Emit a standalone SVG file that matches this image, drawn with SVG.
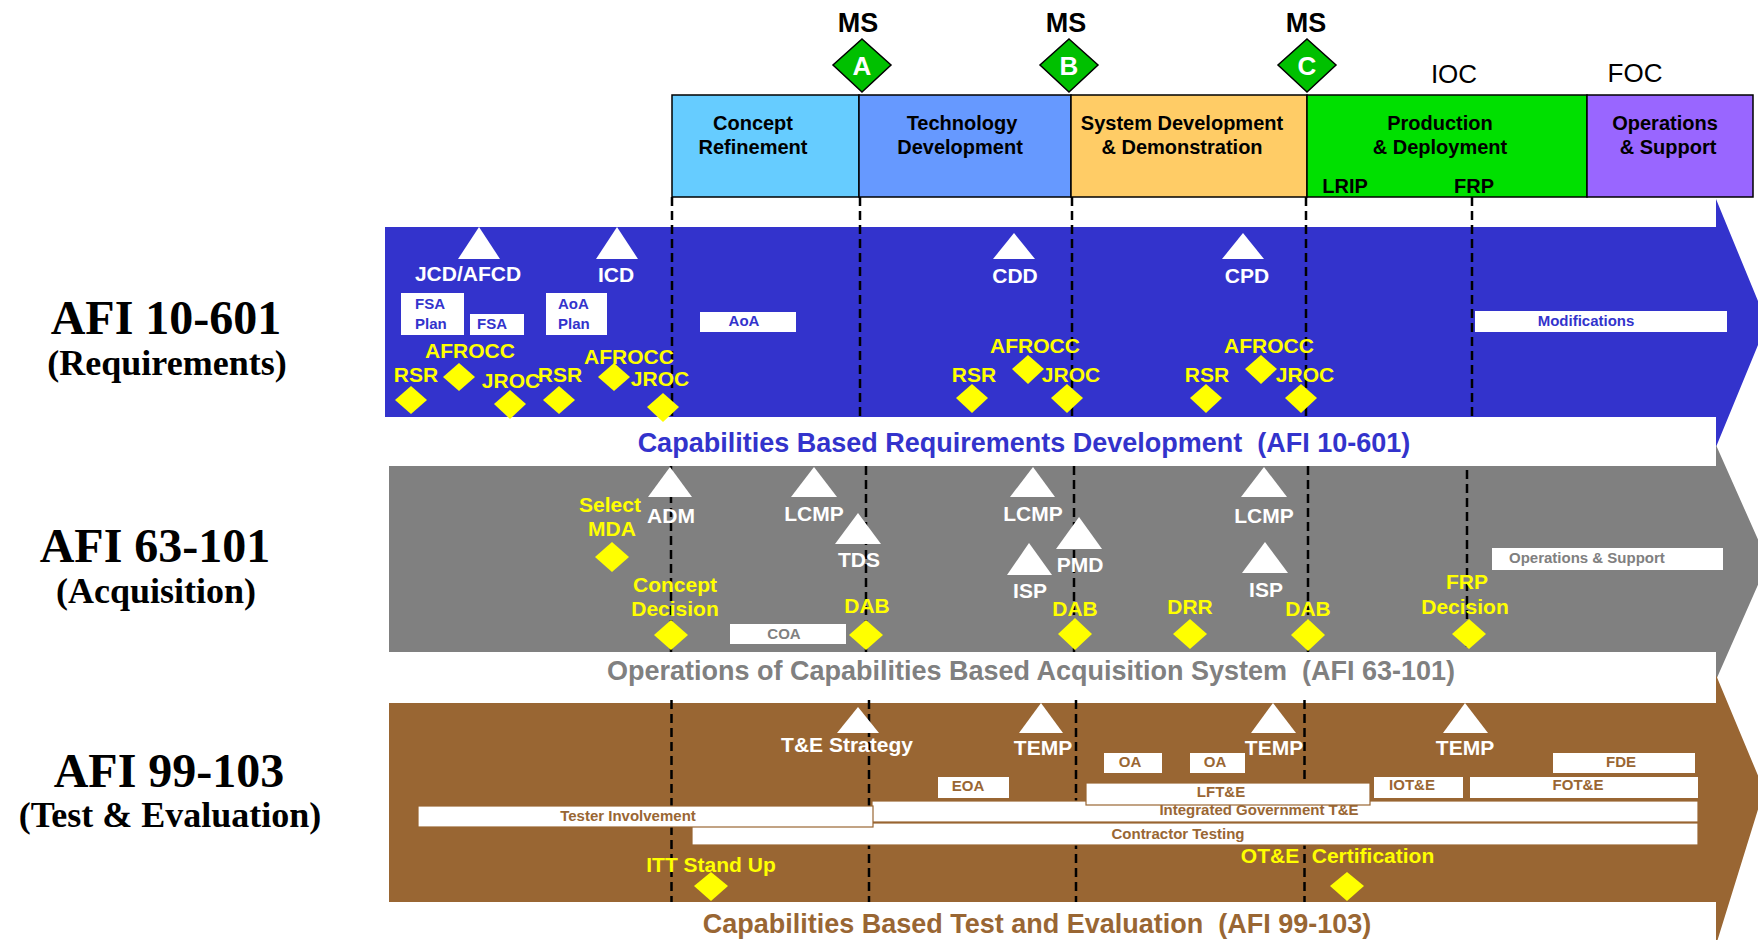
<svg xmlns="http://www.w3.org/2000/svg" width="1758" height="940" viewBox="0 0 1758 940">
<style>
text{font-family:"Liberation Sans",Arial,sans-serif;font-weight:bold}
.ph{font-size:20px;fill:#000;text-anchor:middle}
.ms{font-size:27px;fill:#000;text-anchor:middle}
.msl{font-size:26px;fill:#fff;text-anchor:middle}
.io{font-size:26px;font-weight:normal;fill:#000;text-anchor:middle}
.tl{font-size:21px;fill:#fff;text-anchor:middle}
.yl{font-size:21px;fill:#ff0;text-anchor:middle}
.tri{fill:#fff}
.dia{fill:#ff0}
.msd{fill:#00c000;stroke:#000;stroke-width:1.5}
.box{fill:#fff}
.bbox{fill:#fff;stroke:#996633;stroke-width:1.2}
.bt{font-size:15px;fill:#3333cc}
.gt{font-size:15px;fill:#808080}
.brt{font-size:15px;fill:#996633;text-anchor:middle}
.ttl{font-size:27px;text-anchor:middle}
.afi{font-family:"Liberation Serif","Times New Roman",serif;font-weight:bold;fill:#000;text-anchor:middle}
.dash{stroke:#000;stroke-width:2.5;stroke-dasharray:9,5;fill:none}
.phb{stroke:#000;stroke-width:1.5}
</style>

<!-- Left labels -->
<g id="label-req">
<text class="afi" x="166" y="334" font-size="48">AFI 10-601</text>
<text class="afi" x="167" y="375" font-size="36">(Requirements)</text>
</g>
<g id="label-acq">
<text class="afi" x="155" y="562" font-size="48">AFI 63-101</text>
<text class="afi" x="156" y="603" font-size="36">(Acquisition)</text>
</g>
<g id="label-te">
<text class="afi" x="169" y="787" font-size="48">AFI 99-103</text>
<text class="afi" x="170" y="827" font-size="36">(Test &amp; Evaluation)</text>
</g>

<!-- Band arrows -->
<g id="band-blue">
<polygon fill="#3333cc" points="385,227 1716,227 1716,199 1767,323 1716,447 1716,417 385,417"/>
</g>
<g id="band-grey">
<polygon fill="#808080" points="389,466 1716,466 1716,445 1768,562 1716,680 1716,652 389,652"/>
</g>
<g id="band-brown">
<polygon fill="#996633" points="389,703 1716,703 1716,675 1764,790 1716,945 1716,902 389,902"/>
</g>

<!-- Titles -->
<text class="ttl" x="1024" y="452" fill="#3333cc" xml:space="preserve">Capabilities Based Requirements Development  (AFI 10-601)</text>
<text class="ttl" x="1031" y="680" fill="#808080" xml:space="preserve">Operations of Capabilities Based Acquisition System  (AFI 63-101)</text>
<text class="ttl" x="1037" y="933" fill="#996633" xml:space="preserve">Capabilities Based Test and Evaluation  (AFI 99-103)</text>

<!-- Phase header -->
<g id="phase-cr"><rect class="phb" x="672" y="95" width="187" height="102" fill="#66ccff"/>
<text class="ph" x="753" y="130">Concept</text><text class="ph" x="753" y="154">Refinement</text></g>
<g id="phase-td"><rect class="phb" x="859" y="95" width="212" height="102" fill="#6699ff"/>
<text class="ph" x="962" y="130">Technology</text><text class="ph" x="960" y="154">Development</text></g>
<g id="phase-sdd"><rect class="phb" x="1071" y="95" width="236" height="102" fill="#ffcc66"/>
<text class="ph" x="1182" y="130">System Development</text><text class="ph" x="1182" y="154">&amp; Demonstration</text></g>
<g id="phase-pd"><rect class="phb" x="1307" y="95" width="280" height="102" fill="#00e000"/>
<text class="ph" x="1440" y="130">Production</text><text class="ph" x="1440" y="154">&amp; Deployment</text>
<text class="ph" x="1345" y="193">LRIP</text><text class="ph" x="1474" y="193">FRP</text></g>
<g id="phase-os"><rect class="phb" x="1587" y="95" width="166" height="102" fill="#9966ff"/>
<text class="ph" x="1665" y="130">Operations</text><text class="ph" x="1668" y="154">&amp; Support</text></g>

<!-- Milestones -->
<g id="ms-a"><text class="ms" x="858" y="32">MS</text>
<polygon class="msd" points="862,39 891,65 862,92 833,65"/><text class="msl" x="862" y="75">A</text></g>
<g id="ms-b"><text class="ms" x="1066" y="32">MS</text>
<polygon class="msd" points="1069,39 1098,65 1069,92 1040,65"/><text class="msl" x="1069" y="75">B</text></g>
<g id="ms-c"><text class="ms" x="1306" y="32">MS</text>
<polygon class="msd" points="1307,39 1336,65 1307,92 1278,65"/><text class="msl" x="1307" y="75">C</text></g>
<g id="ioc"><text class="io" x="1454" y="83">IOC</text></g>
<g id="foc"><text class="io" x="1635" y="82">FOC</text></g>

<!-- Dashed phase lines -->
<g id="connectors">
<line class="dash" x1="672" y1="197" x2="672" y2="420"/>
<line class="dash" x1="860" y1="197" x2="860" y2="420"/>
<line class="dash" x1="1072" y1="197" x2="1072" y2="420"/>
<line class="dash" x1="1306" y1="197" x2="1306" y2="420"/>
<line class="dash" x1="1472" y1="197" x2="1472" y2="420"/>
<line class="dash" x1="671" y1="466" x2="671" y2="652"/>
<line class="dash" x1="866" y1="466" x2="866" y2="652"/>
<line class="dash" x1="1074" y1="466" x2="1074" y2="652"/>
<line class="dash" x1="1308" y1="466" x2="1308" y2="652"/>
<line class="dash" x1="1467" y1="470" x2="1467" y2="652"/>
<line class="dash" x1="671.5" y1="700" x2="671.5" y2="902"/>
<line class="dash" x1="869" y1="700" x2="869" y2="902"/>
<line class="dash" x1="1076" y1="700" x2="1076" y2="902"/>
<line class="dash" x1="1304.5" y1="700" x2="1304.5" y2="902"/>
</g>

<!-- Blue band items -->
<g id="jcd"><polygon class="tri" points="479,227 500,259 458,259"/><text class="tl" x="468" y="281">JCD/AFCD</text></g>
<g id="icd"><polygon class="tri" points="617,227 638,259 596,259"/><text class="tl" x="616" y="282">ICD</text></g>
<g id="cdd"><polygon class="tri" points="1014,233 1035,259 993,259"/><text class="tl" x="1015" y="283">CDD</text></g>
<g id="cpd"><polygon class="tri" points="1243,233 1264,259 1222,259"/><text class="tl" x="1247" y="283">CPD</text></g>
<g id="fsa-plan"><rect class="box" x="401" y="293" width="63" height="42"/><text class="bt" x="415" y="309">FSA</text><text class="bt" x="415" y="329">Plan</text></g>
<g id="fsa"><rect class="box" x="470" y="314" width="54" height="21"/><text class="bt" x="492" y="329" text-anchor="middle">FSA</text></g>
<g id="aoa-plan"><rect class="box" x="546" y="293" width="61" height="42"/><text class="bt" x="558" y="309">AoA</text><text class="bt" x="558" y="329">Plan</text></g>
<g id="aoa"><rect class="box" x="700" y="312" width="96" height="20"/><text class="bt" x="744" y="326" text-anchor="middle">AoA</text></g>
<g id="mods"><rect class="box" x="1475" y="311" width="252" height="21"/><text class="bt" x="1586" y="326" text-anchor="middle">Modifications</text></g>

<g id="rsr1"><text class="yl" x="416" y="382">RSR</text><polygon class="dia" points="411,386 427,400 411,414 395,400"/></g>
<g id="afrocc1"><text class="yl" x="470" y="358">AFROCC</text><polygon class="dia" points="459,363 475,377 459,391 443,377"/></g>
<g id="jroc1"><text class="yl" x="511" y="388">JROC</text><polygon class="dia" points="510,390 526,404 510,419 494,404"/></g>
<g id="rsr2"><text class="yl" x="560" y="382">RSR</text><polygon class="dia" points="559,386 575,400 559,414 543,400"/></g>
<g id="afrocc2"><text class="yl" x="629" y="364">AFROCC</text><polygon class="dia" points="614,363 630,377 614,391 598,377"/></g>
<g id="jroc2"><text class="yl" x="660" y="386">JROC</text><polygon class="dia" points="663,393 679,407 663,422 647,407"/></g>
<g id="rsr3"><text class="yl" x="974" y="382">RSR</text><polygon class="dia" points="972,384 988,398 972,413 956,398"/></g>
<g id="afrocc3"><text class="yl" x="1035" y="353">AFROCC</text><polygon class="dia" points="1028,355 1044,369 1028,384 1012,369"/></g>
<g id="jroc3"><text class="yl" x="1071" y="382">JROC</text><polygon class="dia" points="1067,384 1083,398 1067,413 1051,398"/></g>
<g id="rsr4"><text class="yl" x="1207" y="382">RSR</text><polygon class="dia" points="1206,384 1222,398 1206,413 1190,398"/></g>
<g id="afrocc4"><text class="yl" x="1269" y="353">AFROCC</text><polygon class="dia" points="1261,355 1277,369 1261,384 1245,369"/></g>
<g id="jroc4"><text class="yl" x="1305" y="382">JROC</text><polygon class="dia" points="1301,384 1317,398 1301,413 1285,398"/></g>

<!-- Grey band items -->
<g id="adm"><polygon class="tri" points="670,467 692,497 648,497"/><text class="tl" x="671" y="523">ADM</text></g>
<g id="lcmp1"><polygon class="tri" points="814,467 837,497 791,497"/><text class="tl" x="814" y="521">LCMP</text></g>
<g id="tds"><polygon class="tri" points="858,513 881,544 835,544"/><text class="tl" x="859" y="567">TDS</text></g>
<g id="lcmp2"><polygon class="tri" points="1033,467 1055,497 1010,497"/><text class="tl" x="1033" y="521">LCMP</text></g>
<g id="isp1"><polygon class="tri" points="1029,543 1052,575 1007,575"/><text class="tl" x="1030" y="598">ISP</text></g>
<g id="pmd"><polygon class="tri" points="1079,517 1102,549 1056,549"/><text class="tl" x="1080" y="572">PMD</text></g>
<g id="lcmp3"><polygon class="tri" points="1264,467 1287,497 1241,497"/><text class="tl" x="1264" y="523">LCMP</text></g>
<g id="isp2"><polygon class="tri" points="1265,542 1288,573 1242,573"/><text class="tl" x="1266" y="597">ISP</text></g>
<g id="coa"><rect class="box" x="730" y="624" width="116" height="20"/><text class="gt" x="784" y="639" text-anchor="middle">COA</text></g>
<g id="ops-sup"><rect class="box" x="1492" y="548" width="231" height="22"/><text class="gt" x="1509" y="563">Operations &amp; Support</text></g>

<g id="select-mda"><text class="yl" x="610" y="512">Select</text><text class="yl" x="612" y="536">MDA</text><polygon class="dia" points="612,542 629,557 612,572 595,557"/></g>
<g id="concept-decision"><text class="yl" x="675" y="592">Concept</text><text class="yl" x="675" y="616">Decision</text><polygon class="dia" points="671,620 688,635 671,650 654,635"/></g>
<g id="dab1"><text class="yl" x="867" y="613">DAB</text><polygon class="dia" points="866,620 883,635 866,650 849,635"/></g>
<g id="dab2"><text class="yl" x="1075" y="616">DAB</text><polygon class="dia" points="1075,618 1092,634 1075,650 1058,634"/></g>
<g id="drr"><text class="yl" x="1190" y="614">DRR</text><polygon class="dia" points="1190,619 1207,634 1190,649 1173,634"/></g>
<g id="dab3"><text class="yl" x="1308" y="616">DAB</text><polygon class="dia" points="1308,619 1325,635 1308,651 1291,635"/></g>
<g id="frp-decision"><text class="yl" x="1467" y="589">FRP</text><text class="yl" x="1465" y="614">Decision</text><polygon class="dia" points="1469,619 1486,634 1469,649 1452,634"/></g>

<!-- Brown band items -->
<g id="te-strategy"><polygon class="tri" points="858,707 879,733 837,733"/><text class="tl" x="847" y="752">T&amp;E Strategy</text></g>
<g id="temp1"><polygon class="tri" points="1041,703 1063,733 1019,733"/><text class="tl" x="1043" y="755">TEMP</text></g>
<g id="temp2"><polygon class="tri" points="1273,703 1296,733 1251,733"/><text class="tl" x="1274" y="755">TEMP</text></g>
<g id="temp3"><polygon class="tri" points="1465,703 1488,733 1443,733"/><text class="tl" x="1465" y="755">TEMP</text></g>

<g id="contractor"><rect class="bbox" x="692" y="823" width="1006" height="22"/><text class="brt" x="1178" y="839">Contractor Testing</text></g>
<g id="integrated"><rect class="bbox" x="872" y="801" width="826" height="21"/><text class="brt" x="1259" y="815">Integrated Government T&amp;E</text></g>
<g id="tester"><rect class="bbox" x="418" y="806" width="455" height="21"/><text class="brt" x="628" y="821">Tester Involvement</text></g>
<g id="lfte"><rect class="bbox" x="1086" y="783" width="284" height="22"/><text class="brt" x="1221" y="797">LFT&amp;E</text></g>
<g id="eoa"><rect class="box" x="938" y="777" width="71" height="21"/><text class="brt" x="968" y="791">EOA</text></g>
<g id="oa1"><rect class="box" x="1104" y="753" width="58" height="20"/><text class="brt" x="1130" y="767">OA</text></g>
<g id="oa2"><rect class="box" x="1190" y="753" width="55" height="20"/><text class="brt" x="1215" y="767">OA</text></g>
<g id="iote"><rect class="box" x="1374" y="777" width="89" height="21"/><text class="brt" x="1412" y="790">IOT&amp;E</text></g>
<g id="fote"><rect class="box" x="1470" y="777" width="228" height="21"/><text class="brt" x="1578" y="790">FOT&amp;E</text></g>
<g id="fde"><rect class="box" x="1553" y="753" width="142" height="20"/><text class="brt" x="1621" y="767">FDE</text></g>

<g id="itt"><text class="yl" x="711" y="872">ITT Stand Up</text><polygon class="dia" points="711,872 728,886 711,901 694,886"/></g>
<g id="ote-cert"><text class="yl" x="1270" y="863">OT&amp;E</text><text class="yl" x="1373" y="863">Certification</text><polygon class="dia" points="1347,872 1364,886 1347,901 1330,886"/></g>
</svg>
